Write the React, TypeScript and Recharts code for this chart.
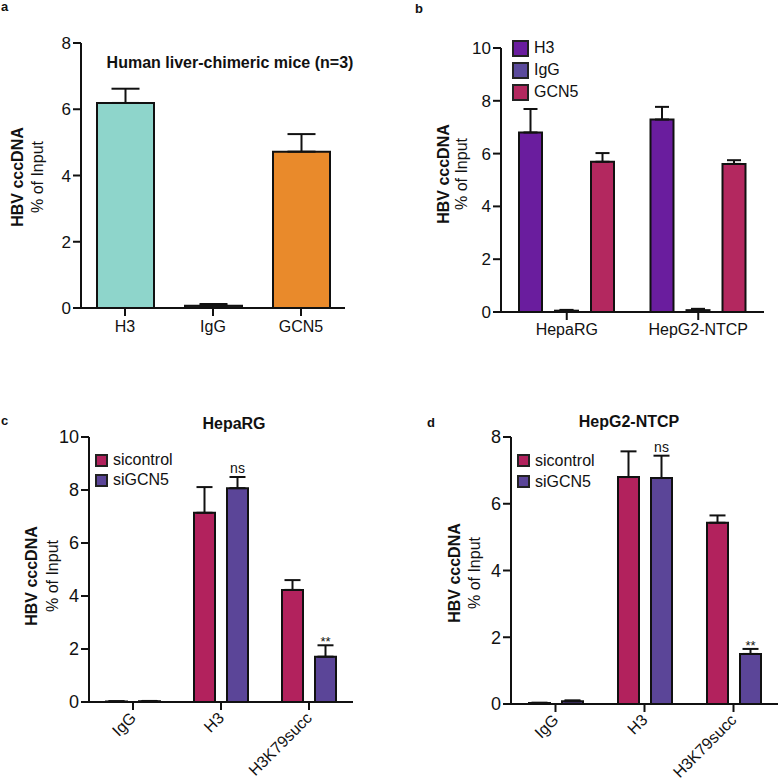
import { BarChart, Bar, XAxis, YAxis, ErrorBar, Cell, Legend, LabelList } from "recharts";

const FONT = '"Liberation Sans", Arial, Helvetica, sans-serif';
const INK = "#111111";

// panel a - human liver-chimeric mice
const aCategories = ["H3", "IgG", "GCN5"];
const aValues = [6.19, 0.07, 4.72];
const aErrors = [0.43, 0.05, 0.53];
const aColors = ["#8ed5cb", "#333333", "#e98a2b"];

// panel b - HepaRG vs HepG2-NTCP
const bGroups = ["HepaRG", "HepG2-NTCP"];
const bSeries = ["H3", "IgG", "GCN5"];
const bColors = ["#6a1d9e", "#5b4a9c", "#b3285f"];
const bH3 = [6.8, 7.29];
const bH3Err = [0.89, 0.48];
const bIgG = [0.05, 0.07];
const bIgGErr = [0.03, 0.05];
const bGCN5 = [5.69, 5.61];
const bGCN5Err = [0.33, 0.14];

// panels c/d - knockdown
const kdCategories = ["IgG", "H3", "H3K79succ"];
const kdSeries = ["sicontrol", "siGCN5"];
const kdColors = ["#b2225d", "#5b4598"];
const kdSig = ["", "ns", "**"];

const cSicontrol = [0.02, 7.14, 4.23];
const cSicontrolErr = [0.01, 0.97, 0.37];
const cSiGCN5 = [0.03, 8.07, 1.71];
const cSiGCN5Err = [0.01, 0.42, 0.43];

const dSicontrol = [0.03, 6.8, 5.43];
const dSicontrolErr = [0.01, 0.77, 0.22];
const dSiGCN5 = [0.08, 6.77, 1.5];
const dSiGCN5Err = [0.03, 0.67, 0.15];

const aData = aCategories.map((name, i) => ({ name, value: aValues[i], err: [0, aErrors[i]] }));

const bData = bGroups.map((name, i) => ({
  name,
  H3: bH3[i],
  H3Err: [0, bH3Err[i]],
  IgG: bIgG[i],
  IgGErr: [0, bIgGErr[i]],
  GCN5: bGCN5[i],
  GCN5Err: [0, bGCN5Err[i]],
}));

const kdData = (ctl: number[], ctlErr: number[], kd: number[], kdErr: number[]) =>
  kdCategories.map((name, i) => ({
    name,
    sicontrol: ctl[i],
    sicontrolErr: [0, ctlErr[i]],
    siGCN5: kd[i],
    siGCN5Err: [0, kdErr[i]],
    sig: kdSig[i],
  }));

const cData = kdData(cSicontrol, cSicontrolErr, cSiGCN5, cSiGCN5Err);
const dData = kdData(dSicontrol, dSicontrolErr, dSiGCN5, dSiGCN5Err);

// two-line y axis title, drawn at fixed spots in the chart svg
const YTitle = ({ x1, x2, cy }: { x1: number; x2: number; cy: number }) => (
  <g fontFamily={FONT} fill={INK} fontSize={16}>
    <text x={x1} y={cy} transform={`rotate(-90 ${x1} ${cy})`} textAnchor="middle" dominantBaseline="central" fontWeight={700}>
      HBV cccDNA
    </text>
    <text x={x2} y={cy} transform={`rotate(-90 ${x2} ${cy})`} textAnchor="middle" dominantBaseline="central">
      % of Input
    </text>
  </g>
);

const SwatchLegend = ({ items, colors, box, rowH, fontSize }: { items: string[]; colors: string[]; box: number; rowH: number; fontSize: number }) => (
  <div style={{ fontFamily: FONT, fontSize, color: INK, lineHeight: 1 }}>
    {items.map((name, i) => (
      <div key={name} style={{ display: "flex", alignItems: "center", height: rowH }}>
        <span
          style={{
            width: box,
            height: box,
            background: colors[i],
            border: "2px solid #222",
            boxSizing: "border-box",
            marginRight: 5,
            display: "inline-block",
          }}
        />
        {name}
      </div>
    ))}
  </div>
);

// "ns" / "**" above the siGCN5 error bar
const makeSigLabel = (values: number[], errors: number[]) => (props: any) => {
  const { index, value } = props;
  if (!value) return null;
  const vb = props.viewBox ?? props;
  const perUnit = vb.height / values[index];
  const top = vb.y - errors[index] * perUnit;
  const isStars = value === "**";
  return (
    <text
      x={vb.x + vb.width / 2}
      y={isStars ? top + 1 : top - 4}
      textAnchor="middle"
      fontFamily={FONT}
      fontSize={isStars ? 13 : 14}
      fill={INK}
    >
      {value}
    </text>
  );
};

// rotated category label, ends just right of the tick
const RotTick = ({ x, y, payload }: any) => {
  const ax = x + 4;
  const ay = y + 7;
  return (
    <text
      x={ax}
      y={ay}
      transform={`rotate(-45 ${ax} ${ay})`}
      textAnchor="end"
      fontFamily={FONT}
      fontSize={16}
      fill={INK}
    >
      {payload.value}
    </text>
  );
};

const yTick = { fill: INK, fontSize: 17, fontFamily: FONT };
const yTickBig = { fill: INK, fontSize: 18, fontFamily: FONT };
const xTick = { fill: INK, fontSize: 16, fontFamily: FONT };

const KnockdownChart = ({ data, max, ticks, margin, width, title, legendPos, kd, kdErr }: any) => (
  <BarChart width={width} height={400} data={data} margin={margin} barGap={12}>
    <XAxis
      dataKey="name"
      height={70}
      tickSize={8}
      interval={0}
      stroke={INK}
      strokeWidth={2}
      tick={<RotTick />}
    />
    <YAxis
      width={60}
      domain={[0, max]}
      ticks={ticks}
      tickSize={8}
      stroke={INK}
      strokeWidth={2}
      tick={yTickBig}
      label={title}
    />
    <Legend
      layout="vertical"
      align="center"
      verticalAlign="middle"
      wrapperStyle={{ left: legendPos.left, top: legendPos.top, width: "auto" }}
      content={() => <SwatchLegend items={kdSeries} colors={kdColors} box={13} rowH={legendPos.rowH} fontSize={16} />}
    />
    <Bar dataKey="sicontrol" fill={kdColors[0]} barSize={21} stroke={INK} strokeWidth={2} isAnimationActive={false}>
      <ErrorBar dataKey="sicontrolErr" width={8} stroke={INK} strokeWidth={2} isAnimationActive={false} />
    </Bar>
    <Bar dataKey="siGCN5" fill={kdColors[1]} barSize={21} stroke={INK} strokeWidth={2} isAnimationActive={false}>
      <ErrorBar dataKey="siGCN5Err" width={8} stroke={INK} strokeWidth={2} isAnimationActive={false} />
      <LabelList dataKey="sig" content={makeSigLabel(kd, kdErr)} />
    </Bar>
  </BarChart>
);

export default function App() {
  return (
    <div
      style={{
        position: "absolute",
        left: 0,
        top: 0,
        width: 778,
        height: 780,
        background: "#fff",
        overflow: "hidden",
        fontFamily: FONT,
      }}
    >
      {/* a */}
      <div style={{ position: "absolute", left: 0, top: 0 }}>
        <BarChart width={360} height={345} data={aData} margin={{ top: 43, right: 15, bottom: 7, left: 21 }}>
          <XAxis dataKey="name" height={30} tickSize={8} tickMargin={5} interval={0} stroke={INK} strokeWidth={2} tick={xTick} />
          <YAxis
            width={60}
            domain={[0, 8]}
            ticks={[0, 2, 4, 6, 8]}
            tickSize={8}
            stroke={INK}
            strokeWidth={2}
            tick={yTick}
            label={<YTitle x1={17} x2={37} cy={177} />}
          />
          <Bar dataKey="value" barSize={57} stroke={INK} strokeWidth={2} isAnimationActive={false}>
            {aData.map((d, i) => (
              <Cell key={d.name} fill={aColors[i]} />
            ))}
            <ErrorBar dataKey="err" width={14} stroke={INK} strokeWidth={2} isAnimationActive={false} />
          </Bar>
        </BarChart>
      </div>

      {/* b */}
      <div style={{ position: "absolute", left: 390, top: 0 }}>
        <BarChart width={388} height={345} data={bData} margin={{ top: 48, right: 14, bottom: 3, left: 51 }} barGap={13}>
          <XAxis dataKey="name" height={30} tickSize={8} tickMargin={4} interval={0} stroke={INK} strokeWidth={2} tick={xTick} />
          <YAxis
            width={60}
            domain={[0, 10]}
            ticks={[0, 2, 4, 6, 8, 10]}
            tickSize={8}
            stroke={INK}
            strokeWidth={2}
            tick={yTick}
            label={<YTitle x1={53} x2={71} cy={174} />}
          />
          <Legend
            layout="vertical"
            align="center"
            verticalAlign="middle"
            wrapperStyle={{ left: 122, top: 37, width: "auto" }}
            content={() => <SwatchLegend items={bSeries} colors={bColors} box={17} rowH={22} fontSize={16} />}
          />
          {bSeries.map((s, i) => (
            <Bar key={s} dataKey={s} fill={bColors[i]} barSize={23} stroke={INK} strokeWidth={2} isAnimationActive={false}>
              <ErrorBar dataKey={`${s}Err`} width={7} stroke={INK} strokeWidth={2} isAnimationActive={false} />
            </Bar>
          ))}
        </BarChart>
      </div>

      {/* c */}
      <div style={{ position: "absolute", left: 0, top: 380 }}>
        <KnockdownChart
          data={cData}
          width={370}
          max={10}
          ticks={[0, 2, 4, 6, 8, 10]}
          margin={{ top: 57, right: 17, bottom: 8, left: 29 }}
          title={<YTitle x1={31} x2={52} cy={196} />}
          legendPos={{ left: 95, top: 70, rowH: 20 }}
          kd={cSiGCN5}
          kdErr={cSiGCN5Err}
        />
      </div>

      {/* d */}
      <div style={{ position: "absolute", left: 390, top: 380 }}>
        <KnockdownChart
          data={dData}
          width={388}
          max={8}
          ticks={[0, 2, 4, 6, 8]}
          margin={{ top: 57, right: 0, bottom: 6, left: 61 }}
          title={<YTitle x1={64} x2={84} cy={193} />}
          legendPos={{ left: 127, top: 70, rowH: 21 }}
          kd={dSiGCN5}
          kdErr={dSiGCN5Err}
        />
      </div>

      {/* panel letters and titles */}
      <svg
        width={778}
        height={780}
        style={{ position: "absolute", left: 0, top: 0, pointerEvents: "none" }}
        fontFamily={FONT}
        fill={INK}
        fontWeight={700}
      >
        <text x={1} y={11} fontSize={13}>a</text>
        <text x={415} y={13} fontSize={13}>b</text>
        <text x={1} y={425} fontSize={13}>c</text>
        <text x={427} y={427} fontSize={13}>d</text>
        <text x={230} y={68} fontSize={16} textAnchor="middle">Human liver-chimeric mice (n=3)</text>
        <text x={234} y={429} fontSize={16} textAnchor="middle">HepaRG</text>
        <text x={629} y={427} fontSize={16} textAnchor="middle">HepG2-NTCP</text>
      </svg>
    </div>
  );
}
